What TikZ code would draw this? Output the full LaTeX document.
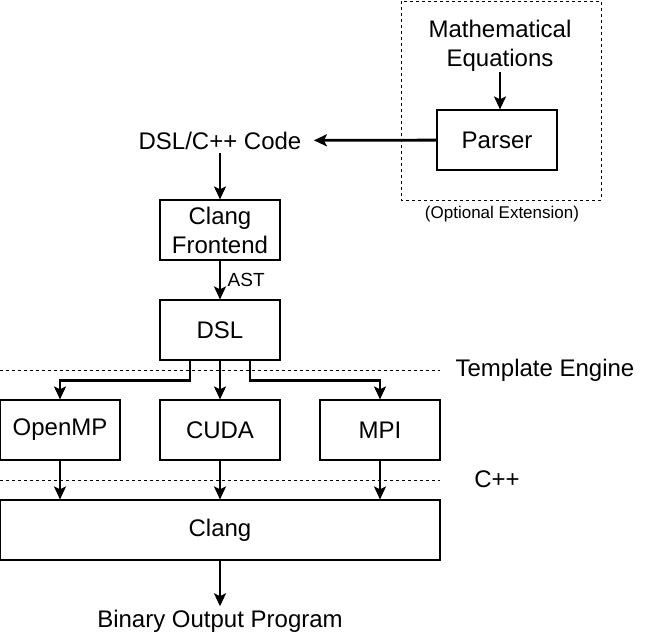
\documentclass[tikz,border=0pt]{standalone}
\usepackage{fontspec}
\setmainfont{Liberation Sans}
\usetikzlibrary{arrows.meta}

\begin{document}
\begin{tikzpicture}
            [x=1pt, y=-1pt,
            caja/.style = {draw, line width=1.2pt,
                        minimum width=120pt, minimum height=60pt,
                        inner sep=0pt, align=center,
                        font=\fontsize{24}{29}\selectfont},
            texto/.style = {align=center, font=\fontsize{24}{29}\selectfont},
            flecha/.style = {line width=2.8pt, -{Stealth[length=13pt, width=12pt, inset=3pt]}},
            nivel/.style = {line width=0.8pt, dash pattern=on 3pt off 3pt}]
            \useasboundingbox (0,0) rectangle (651,641);
            % Extension opcional
            \draw[nivel] (401,1) rectangle (601,200);
            \node[texto, inner sep=1pt] (ecuaciones) at (500,45.5) {Mathematical\\Equations};
            \node[caja] (parser) at (497,140) {Parser};
            \node[font=\fontsize{17}{20}\selectfont] (opcional) at (502,214) {(Optional Extension)};
            % Cadena principal
            \node[texto] (codigo) at (220,140.5) {DSL/C++ Code};
            \node[caja] (frontend) at (220,230) {Clang\\Frontend};
            \node[caja] (dsl) at (220,330) {DSL};
            \node[caja] (openmp) at (60,430) {OpenMP};
            \node[caja] (cuda) at (220,430) {CUDA};
            \node[caja] (mpi) at (380,430) {MPI};
            \node[caja, minimum width=440pt] (clang) at (220,530) {Clang};
            \node[texto] (salida) at (220,621) {Binary Output Program};
            % Niveles
            \coordinate (te0) at (0,370);
            \coordinate (te1) at (440,370);
            \coordinate (cc0) at (0,480);
            \coordinate (cc1) at (440,480);
            \draw[nivel] (te0) -- (te1);
            \draw[nivel] (cc0) -- (cc1);
            \node[texto] (template) at (545,370.5) {Template Engine};
            \node[texto] (cpp) at (497,479) {C++};
            % Flechas
            \draw[flecha] (ecuaciones.south) -- (ecuaciones.south |- parser.north);
            \draw[flecha, shorten >=9pt] (parser) -- (codigo);
            \draw[flecha] (codigo) -- (frontend);
            \draw[flecha] (frontend) -- node[right, xshift=3pt, font=\fontsize{19}{22}\selectfont] (ast) {AST} (dsl);
            \draw[flecha] ([xshift=-30pt]dsl.south) -- ++(0,20) -| (openmp.north);
            \draw[flecha] (dsl) -- (cuda);
            \draw[flecha] ([xshift=30pt]dsl.south) -- ++(0,20) -| (mpi.north);
            \draw[flecha] (openmp) -- (openmp.south |- clang.north);
            \draw[flecha] (cuda) -- (clang);
            \draw[flecha] (mpi) -- (mpi.south |- clang.north);
            \draw[flecha] (clang) -- (salida);
        \end{tikzpicture}
\end{document}
